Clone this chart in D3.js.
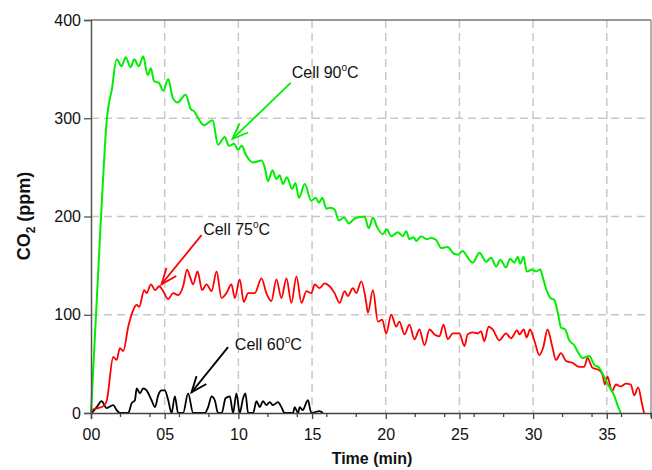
<!DOCTYPE html>
<html><head><meta charset="utf-8">
<script src="https://cdn.jsdelivr.net/npm/d3@7"></script>
<style>body{margin:0;background:#fff}svg{display:block}text{font-family:"Liberation Sans",Arial,sans-serif}</style>
</head><body><svg id="c" width="652" height="470"></svg>
<script>
// Time (min), CO2 (ppm)
const green90 = [[0,0],[0.68,200],[1.08,300],[1.42,330],[1.74,360],[2.08,353],[2.35,362],[2.69,352],[2.93,360],[3.25,353],[3.54,363],[3.84,344],[4.07,351],[4.27,338],[4.61,336],[4.9,328],[5.24,340],[5.54,321],[5.87,316],[6.42,324],[6.78,309],[7.0,307],[7.2,302],[7.66,293],[8.25,298],[8.62,273],[9.08,281],[9.35,272],[9.71,274],[9.98,268],[10.23,272],[10.5,263],[11.0,255],[11.57,257],[11.79,250],[12.01,236],[12.31,247],[12.58,238],[12.8,242],[13.03,233],[13.3,240],[13.64,228],[13.87,234],[14.11,219],[14.5,233],[14.95,216],[15.24,219],[15.47,214],[15.7,219],[15.97,208],[16.26,209],[16.53,207],[16.82,196],[17.16,199],[17.5,193],[17.89,198],[18.56,200],[18.85,188],[19.13,199],[19.42,189],[19.8,182],[20.07,187],[20.37,180],[20.82,184],[21.16,180],[21.39,185],[21.61,177],[21.9,179],[22.07,175],[22.4,180],[22.74,177],[23.08,178],[23.42,176],[23.76,168],[24.21,169],[24.55,163],[24.88,161],[25.22,165],[25.49,160],[25.9,153],[26.36,163],[26.81,154],[27.15,158],[27.49,149],[27.78,156],[28.16,148],[28.43,157],[28.73,153],[28.95,159],[29.13,152],[29.36,159],[29.56,144],[29.93,146],[30.2,144],[30.49,146],[30.64,139],[30.87,127],[31.17,117],[31.44,115],[31.73,98],[31.89,87],[32.18,85],[32.45,74],[32.79,69],[33.08,61],[33.35,56],[33.81,58],[34.15,49],[34.49,46],[34.82,37],[35.16,27],[35.5,18],[35.73,8],[35.95,0]];
const red75 = [[0,0],[0.05,3],[0.49,5],[0.83,7],[1.06,12],[1.51,57],[1.74,54],[1.96,66],[2.19,63],[2.53,88],[2.87,105],[3.1,110],[3.27,108],[3.61,125],[3.77,122],[4.07,131],[4.34,125],[4.63,129],[4.9,124],[5.24,116],[5.58,122],[5.91,120],[6.25,129],[6.52,146],[6.71,139],[6.93,131],[7.23,144],[7.54,125],[7.84,131],[8.18,124],[8.52,144],[8.86,117],[9.19,122],[9.53,131],[9.76,117],[10.09,136],[10.37,113],[10.66,122],[11.11,122],[11.57,137],[11.9,122],[12.24,114],[12.58,136],[12.92,117],[13.26,137],[13.6,112],[13.94,139],[14.28,112],[14.62,124],[14.95,122],[15.18,131],[15.51,127],[15.85,132],[16.19,129],[16.53,122],[16.87,112],[17.21,124],[17.43,119],[17.77,127],[18.0,122],[18.34,134],[18.68,112],[18.79,102],[19.13,125],[19.47,93],[19.76,95],[20.03,81],[20.37,100],[20.71,88],[20.93,93],[21.27,80],[21.61,90],[21.95,75],[22.29,85],[22.63,69],[22.97,85],[23.31,80],[23.64,78],[23.92,90],[24.21,75],[24.55,81],[25.0,81],[25.34,68],[25.56,80],[25.9,82],[26.24,81],[26.47,83],[26.69,73],[26.98,88],[27.26,85],[27.71,74],[28.16,81],[28.5,76],[28.91,84],[29.07,80],[29.36,85],[29.56,77],[29.79,85],[30.08,74],[30.42,59],[30.69,67],[30.98,85],[31.28,69],[31.55,54],[31.89,61],[32.23,53],[32.68,51],[33.13,47],[33.47,47],[33.69,56],[34.03,46],[34.44,44],[34.71,39],[34.87,29],[35.05,37],[35.35,22],[35.62,29],[35.95,27],[36.29,30],[36.63,29],[36.86,18],[37.13,26],[37.38,10],[37.53,0]];
const black60 = [[0.05,0],[0.39,6],[0.72,12],[1.06,5],[1.51,8],[1.74,3],[1.96,0],[2.53,0],[2.76,10],[2.98,13],[3.1,25],[3.32,20],[3.54,25],[3.77,23],[4.11,13],[4.34,6],[4.56,18],[4.79,23],[5.01,23],[5.24,13],[5.47,0],[5.69,17],[5.91,0],[6.25,0],[6.59,20],[6.93,0],[7.72,0],[7.95,6],[8.18,17],[8.4,13],[8.62,0],[8.87,0],[9.13,15],[9.42,17],[9.64,0],[9.87,20],[10.09,0],[10.32,15],[10.48,20],[10.66,0],[11.0,0],[11.23,12],[11.45,6],[11.67,12],[11.9,8],[12.13,11],[12.35,8],[12.69,11],[12.92,6],[13.14,0],[13.71,0],[13.82,6],[14.05,0],[14.16,6],[14.36,3],[14.72,13],[14.95,0],[15.51,2],[15.74,0]];
const xTicks = [0,5,10,15,20,25,30,35];
const xTickLabels = ["00","05","10","15","20","25","30","35"];
const xMinor = [0,2,4,6,8,10,12,14,16,18,20,22,24,26,28,30,32,34,36,38];
const yTicks = [0,100,200,300,400];
// annotations: label, color, text anchor (t, ppm), arrow start, arrow tip
const annLabels = ["Cell 90", "Cell 75", "Cell 60"];
const annColors = ["#00ee00", "#ff0000", "#000000"];
const annText = [[13.62,341],[7.61,181],[9.76,64]];
const annFrom = [[13.55,336],[7.5,181],[9.3,67]];
const annTo = [[9.6,279],[4.78,131],[6.82,21]];

const svg = d3.select("#c");
const L=91, R=651, T=20, B=413;
const x = d3.scaleLinear().domain([0,38]).range([L,R]);
const y = d3.scaleLinear().domain([0,400]).range([B,T]);

// grid
const g = svg.append("g");
g.selectAll(".vg").data(xTicks.slice(1)).join("line")
 .attr("x1",d=>x(d)).attr("x2",d=>x(d)).attr("y1",T).attr("y2",B)
 .attr("stroke","#c8c8c8").attr("stroke-width",1.5).attr("stroke-dasharray","8,5");
g.selectAll(".hg").data(yTicks.slice(1,4)).join("line")
 .attr("x1",L).attr("x2",R).attr("y1",d=>y(d)).attr("y2",d=>y(d))
 .attr("stroke","#c8c8c8").attr("stroke-width",1.5).attr("stroke-dasharray","8,5");

// frame top/right
svg.append("line").attr("x1",L).attr("x2",R).attr("y1",T).attr("y2",T).attr("stroke","#777").attr("stroke-width",1.5);
svg.append("line").attr("x1",R).attr("x2",R).attr("y1",T).attr("y2",B).attr("stroke","#999").attr("stroke-width",1.5);

// lines
const line = d3.line().x(d=>x(d[0])).y(d=>y(d[1])).curve(d3.curveMonotoneX);
svg.append("path").datum(black60).attr("d",line).attr("fill","none").attr("stroke","#000").attr("stroke-width",1.8);
svg.append("path").datum(red75).attr("d",line).attr("fill","none").attr("stroke","#ff0000").attr("stroke-width",1.8);
svg.append("path").datum(green90).attr("d",line).attr("fill","none").attr("stroke","#00ee00").attr("stroke-width",2);

// axes
const xAxis = d3.axisBottom(x).tickValues(xTicks).tickFormat((d,i)=>xTickLabels[i]).tickSize(6).tickPadding(10);
const xa = svg.append("g").attr("transform",`translate(0,${B})`).call(xAxis);
xa.select(".domain").attr("stroke","#444").attr("stroke-width",1.5);
xa.selectAll(".tick line").attr("stroke","#444").attr("stroke-width",1.3);
xa.selectAll(".tick text").attr("font-size",16).attr("fill","#111").attr("font-family","Liberation Sans, Arial, sans-serif");
svg.append("g").attr("transform",`translate(0,${B})`).selectAll("line").data(xMinor.filter(d=>d%5!==0)).join("line")
 .attr("x1",d=>x(d)).attr("x2",d=>x(d)).attr("y1",0).attr("y2",4).attr("stroke","#444").attr("stroke-width",1.3);

const yAxis = d3.axisLeft(y).tickValues(yTicks).tickSize(7).tickPadding(3);
const ya = svg.append("g").attr("transform",`translate(${L},0)`).call(yAxis);
ya.select(".domain").attr("stroke","#555").attr("stroke-width",1.5);
ya.selectAll(".tick line").attr("stroke","#555").attr("stroke-width",1.3);
ya.selectAll(".tick text").attr("font-size",16).attr("fill","#111").attr("font-family","Liberation Sans, Arial, sans-serif");

// axis titles
const xt = svg.append("text").attr("x",372).attr("y",464).attr("text-anchor","middle")
 .attr("font-size",16).attr("font-weight","bold").attr("fill","#111").text("Time (min)");
const yt = svg.append("text").attr("transform","translate(30,216) rotate(-90)").attr("text-anchor","middle")
 .attr("font-size",18).attr("font-weight","bold").attr("fill","#111");
yt.append("tspan").text("CO");
yt.append("tspan").attr("font-size",12).attr("dy",5).text("2");
yt.append("tspan").attr("dy",-5).text(" (ppm)");

// annotations
annLabels.forEach((lab,i)=>{
  const t = svg.append("text").attr("x",x(annText[i][0])).attr("y",y(annText[i][1]))
    .attr("font-size",16).attr("fill","#111");
  t.append("tspan").text(lab);
  t.append("tspan").attr("font-size",10).attr("dy",-7).text("o");
  t.append("tspan").attr("dy",7).text("C");
  const x0=x(annFrom[i][0]), y0=y(annFrom[i][1]), x1=x(annTo[i][0]), y1=y(annTo[i][1]);
  svg.append("line").attr("x1",x0).attr("y1",y0).attr("x2",x1).attr("y2",y1)
    .attr("stroke",annColors[i]).attr("stroke-width",1.8);
  const ang = Math.atan2(y0-y1,x0-x1), len=17, sp=0.38;
  const pts = [[x1+len*Math.cos(ang+sp), y1+len*Math.sin(ang+sp)],[x1,y1],[x1+len*Math.cos(ang-sp), y1+len*Math.sin(ang-sp)]];
  svg.append("path").attr("d",d3.line()(pts)).attr("fill","none").attr("stroke",annColors[i]).attr("stroke-width",1.8);
});
</script></body></html>
